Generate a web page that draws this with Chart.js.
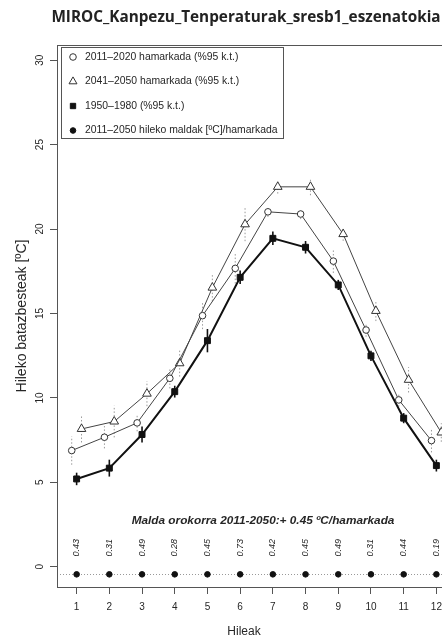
<!DOCTYPE html>
<html lang="eu">
<head>
<meta charset="UTF-8">
<title>MIROC_Kanpezu_Tenperaturak_sresb1_eszenatokia</title>
<script src="https://cdn.jsdelivr.net/npm/chart.js@4.4.1/dist/chart.umd.min.js"></script>
<style>
    * { margin: 0; padding: 0; box-sizing: border-box; }
    body { background: #fff; }
    /* plot box runs past the right edge in the original, so the canvas is clipped */
    .wrap { width: 442px; height: 641px; overflow: hidden; }
</style>
</head>
<body>
<div class="wrap"><canvas id="chart" width="462" height="641"></canvas></div>
<script>
    // Data
    const months = [1, 2, 3, 4, 5, 6, 7, 8, 9, 10, 11, 12];
    const yTicks = [0, 5, 10, 15, 20, 25, 30];

    const past = [5.2, 5.84, 7.83, 10.37, 13.39, 17.14, 19.45, 18.92, 16.69, 12.49, 8.8, 5.99];
    const pastErr = [0.37, 0.5, 0.47, 0.35, 0.69, 0.4, 0.4, 0.37, 0.3, 0.3, 0.3, 0.35];

    const dec2011 = [6.88, 7.67, 8.52, 11.16, 14.87, 17.67, 21.02, 20.89, 18.1, 14.02, 9.88, 7.47];
    const dec2011Err = [0.84, 0.66, 0.5, 0.6, 0.8, 0.9, 0.3, 0.3, 0.7, 0.4, 0.4, 0.7];

    const dec2041 = [8.16, 8.6, 10.25, 12.05, 16.53, 20.28, 22.5, 22.5, 19.7, 15.15, 11.07, 7.95];
    const dec2041Err = [0.8, 0.94, 0.74, 0.79, 0.8, 1.0, 0.4, 0.5, 0.4, 0.6, 0.75, 0.55];

    const slopes = [0.43, 0.31, 0.49, 0.28, 0.45, 0.73, 0.42, 0.45, 0.49, 0.31, 0.44, 0.19];
    const overallSlope = 0.45;

    const legendLabels = [
        '2011–2020 hamarkada (%95 k.t.)',
        '2041–2050 hamarkada (%95 k.t.)',
        '1950–1980 (%95 k.t.)',
        '2011–2050 hileko maldak [ºC]/hamarkada'
    ];

    // Layout constants (value units of the axes)
    const SHIFT = 0.15;        // side-by-side offset of the two decades
    const SLOPE_ROW = -0.45;   // where the slope dots sit
    const SLOPE_TEXT = 1.12;   // slope numbers above the dots
    const NOTE_Y = 2.72;
    const NOTE_X = 6.7;

    const AXIS = '#555';
    const TEXT = '#262626';
    const SANS = '"Liberation Sans", Arial, sans-serif';

    const pts = (vals, dx) => vals.map((v, i) => ({ x: months[i] + dx, y: v }));

    const styles = [
        { pointStyle: 'circle', radius: 3.3, borderColor: '#333', backgroundColor: '#fff', borderWidth: 1 },
        { pointStyle: 'triangle', radius: 5, borderColor: '#333', backgroundColor: '#fff', borderWidth: 1 },
        { pointStyle: 'rect', radius: 4.2, borderColor: '#111', backgroundColor: '#111', borderWidth: 1 },
        { pointStyle: 'circle', radius: 2.8, borderColor: '#111', backgroundColor: '#111', borderWidth: 1 }
    ];

    function errorBars(ctx, xs, ys, vals, errs, dx, solid) {
        ctx.save();
        if (solid) {
            ctx.strokeStyle = '#111';
            ctx.lineWidth = 1.6;
        } else {
            ctx.strokeStyle = '#9a9a9a';
            ctx.lineWidth = 1;
            ctx.setLineDash([1.5, 2]);
        }
        vals.forEach((v, i) => {
            const px = xs.getPixelForValue(months[i] + dx);
            ctx.beginPath();
            ctx.moveTo(px, ys.getPixelForValue(v - errs[i]));
            ctx.lineTo(px, ys.getPixelForValue(v + errs[i]));
            ctx.stroke();
        });
        ctx.restore();
    }

    const decor = {
        id: 'decor',
        beforeDatasetsDraw(chart) {
            const { ctx, chartArea: a, scales: { x, y } } = chart;
            // dotted guide through the slope dots
            ctx.save();
            ctx.strokeStyle = '#999';
            ctx.lineWidth = 1;
            ctx.setLineDash([1, 2]);
            const py = Math.round(y.getPixelForValue(SLOPE_ROW)) + 0.5;
            ctx.beginPath();
            ctx.moveTo(a.left + 3, py);
            ctx.lineTo(a.right, py);
            ctx.stroke();
            ctx.restore();

            errorBars(ctx, x, y, dec2011, dec2011Err, -SHIFT, false);
            errorBars(ctx, x, y, dec2041, dec2041Err, SHIFT, false);
            errorBars(ctx, x, y, past, pastErr, 0, true);
        },
        afterDraw(chart) {
            const { ctx, chartArea: a, scales: { x, y } } = chart;
            ctx.save();

            // plot box
            ctx.strokeStyle = AXIS;
            ctx.lineWidth = 1;
            ctx.strokeRect(a.left + 0.5, a.top + 0.5, a.right - a.left, a.bottom - a.top);

            // main title
            ctx.fillStyle = '#222';
            ctx.textAlign = 'center';
            ctx.textBaseline = 'middle';
            ctx.font = 'bold 15.3px "Open Sans", sans-serif';
            ctx.fillText('MIROC_Kanpezu_Tenperaturak_sresb1_eszenatokia', 246, 18);

            // axis titles
            ctx.fillStyle = TEXT;
            ctx.font = '12px ' + SANS;
            ctx.fillText('Hileak', 244, 632);
            ctx.save();
            ctx.translate(22, 316);
            ctx.rotate(-Math.PI / 2);
            ctx.font = '14px ' + SANS;
            ctx.fillText('Hileko batazbesteak [ºC]', 0, 0);
            ctx.restore();

            // y tick labels, turned like the original
            ctx.font = '10px ' + SANS;
            yTicks.forEach(t => {
                ctx.save();
                ctx.translate(40, y.getPixelForValue(t));
                ctx.rotate(-Math.PI / 2);
                ctx.fillText(String(t), 0, 0);
                ctx.restore();
            });

            // monthly slope numbers
            ctx.font = 'italic 9px ' + SANS;
            slopes.forEach((s, i) => {
                ctx.save();
                ctx.translate(x.getPixelForValue(months[i]), y.getPixelForValue(SLOPE_TEXT));
                ctx.rotate(-Math.PI / 2);
                ctx.fillText(s.toFixed(2), 0, 0);
                ctx.restore();
            });

            // overall slope note
            ctx.font = 'bold italic 11.8px ' + SANS;
            ctx.fillText('Malda orokorra 2011-2050:+ ' + overallSlope.toFixed(2) + ' ºC/hamarkada',
                x.getPixelForValue(NOTE_X), y.getPixelForValue(NOTE_Y));

            // legend box
            ctx.strokeStyle = AXIS;
            ctx.strokeRect(61.5, 47.5, 222, 91);
            ctx.font = '10.4px ' + SANS;
            ctx.textAlign = 'left';
            ctx.fillStyle = TEXT;
            const rows = [57, 81.5, 106, 130.5];
            legendLabels.forEach((lab, i) => {
                const st = styles[i];
                ctx.save();
                ctx.strokeStyle = st.borderColor;
                ctx.fillStyle = st.backgroundColor;
                ctx.lineWidth = st.borderWidth;
                Chart.helpers.drawPoint(ctx, {
                    pointStyle: st.pointStyle,
                    radius: i === 1 ? 4.6 : (i === 2 ? 3.8 : st.radius),
                    borderWidth: st.borderWidth
                }, 73, rows[i]);
                ctx.restore();
                ctx.fillText(lab, 85, rows[i]);
            });

            ctx.restore();
        }
    };

    function lineSet(vals, dx, st, width, color) {
        return {
            data: pts(vals, dx),
            borderColor: color,
            borderWidth: width,
            pointStyle: st.pointStyle,
            pointRadius: st.radius,
            pointBorderColor: st.borderColor,
            pointBackgroundColor: st.backgroundColor,
            pointBorderWidth: st.borderWidth,
            tension: 0,
            fill: false
        };
    }

    new Chart(document.getElementById('chart'), {
        type: 'line',
        data: {
            datasets: [
                lineSet(dec2011, -SHIFT, styles[0], 1, '#444'),
                lineSet(dec2041, SHIFT, styles[1], 1, '#444'),
                lineSet(past, 0, styles[2], 2, '#111'),
                Object.assign(lineSet(slopes.map(() => SLOPE_ROW), 0, styles[3], 0, '#111'), { showLine: false })
            ]
        },
        options: {
            responsive: false,
            animation: false,
            devicePixelRatio: 1,
            layout: { padding: { top: 45, right: 2, left: 0, bottom: 0 } },
            plugins: {
                legend: { display: false },
                tooltip: { enabled: false },
                title: { display: false }
            },
            scales: {
                x: {
                    type: 'linear',
                    min: 0.4,
                    max: 12.6,
                    afterBuildTicks: s => { s.ticks = months.map(v => ({ value: v })); },
                    afterFit: s => { s.height = 54; },
                    border: { display: false },
                    grid: { drawOnChartArea: false, drawTicks: true, tickLength: 7, tickColor: AXIS },
                    ticks: {
                        color: TEXT,
                        padding: 7,
                        maxRotation: 0,
                        font: { family: SANS, size: 10 }
                    }
                },
                y: {
                    type: 'linear',
                    min: -1.2,
                    max: 30.9,
                    afterBuildTicks: s => { s.ticks = yTicks.map(v => ({ value: v })); },
                    afterFit: s => { s.width = 57; },
                    border: { display: false },
                    grid: { drawOnChartArea: false, drawTicks: true, tickLength: 7, tickColor: AXIS },
                    ticks: { display: false }
                }
            }
        },
        plugins: [decor]
    });
</script>
</body>
</html>
